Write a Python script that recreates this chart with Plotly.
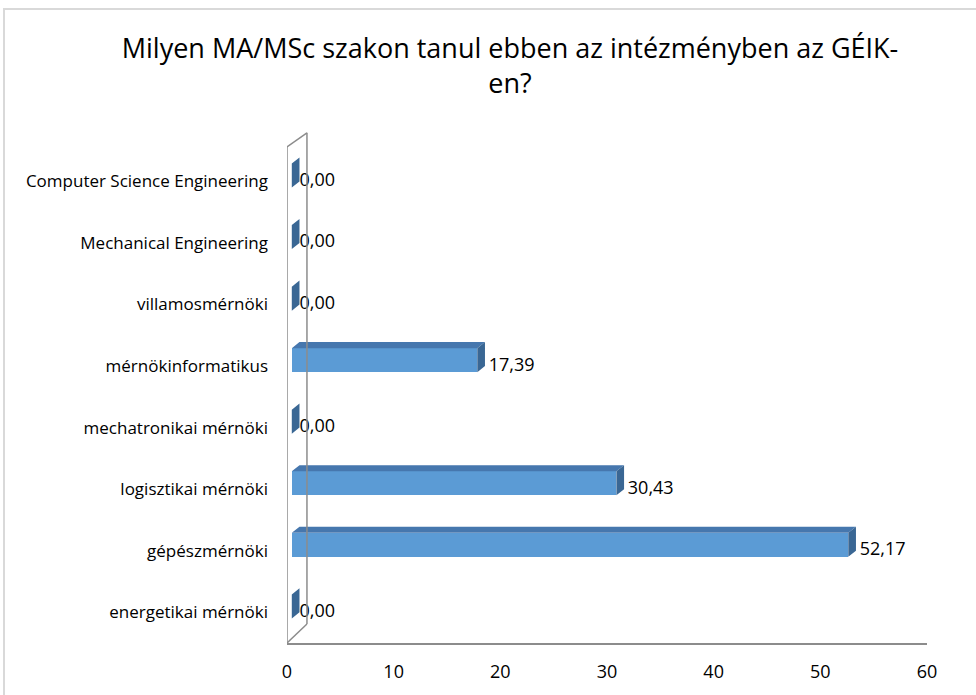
import plotly.graph_objects as go

categories = ["energetikai mérnöki", "gépészmérnöki", "logisztikai mérnöki",
              "mechatronikai mérnöki", "mérnökinformatikus", "villamosmérnöki",
              "Mechanical Engineering", "Computer Science Engineering"]
values = [0.00, 52.17, 30.43, 0.00, 17.39, 0.00, 0.00, 0.00]
x_ticks = [0, 10, 20, 30, 40, 50, 60]
title = "Milyen MA/MSc szakon tanul ebben az intézményben az GÉIK-<br>en?"

FONT = "Open Sans, sans-serif"
FRONT = "#5B9BD5"
TOP = "#4677AE"
SIDE = "#3A6794"

shift = 0.45      # gap between wall and bar front
dx = 0.72         # depth in x units
dy = 0.10         # depth in category units
y0off = -0.10     # front face bottom offset from category
bw = 0.39         # front face height

idx = list(range(len(categories)))

fig = go.Figure()

fig.add_trace(go.Bar(orientation="h", y=idx, x=values, base=shift,
                     width=bw, offset=y0off, marker=dict(color=FRONT, line=dict(width=0)),
                     hoverinfo="skip", showlegend=False))

tx, ty = [], []
for i, v in zip(idx, values):
    if v <= 0:
        continue
    yb = i + y0off + bw
    tx += [shift, shift + v, shift + v + dx, shift + dx, shift, None]
    ty += [yb, yb, yb + dy, yb + dy, yb, None]
fig.add_trace(go.Scatter(x=tx, y=ty, fill="toself", fillcolor=TOP, mode="lines",
                         line=dict(width=0, color=TOP), hoverinfo="skip", showlegend=False))

sx, sy = [], []
for i, v in zip(idx, values):
    xe = shift + v
    yb = i + y0off
    sx += [xe, xe, xe + dx, xe + dx, xe, None]
    sy += [yb, yb + bw, yb + bw + dy, yb + dy, yb, None]
fig.add_trace(go.Scatter(x=sx, y=sy, fill="toself", fillcolor=SIDE, mode="lines",
                         line=dict(width=0, color=SIDE), hoverinfo="skip", showlegend=False))

fig.add_trace(go.Scatter(x=[shift + v + dx + (0.35 if v > 0 else 0) for v in values],
                         y=[i for i in idx],
                         mode="text", text=[f"{v:.2f}".replace(".", ",") for v in values],
                         textposition="middle right",
                         textfont=dict(family=FONT, size=18, color="#000000"),
                         hoverinfo="skip", showlegend=False, cliponaxis=False))

wall_w = 1.87
wall_top = 7.79
GRAY = "#8C8C8C"
shapes = [
    dict(type="line", xref="x", yref="y", x0=0, y0=-0.5, x1=0, y1=7.56,
         line=dict(color=GRAY, width=1.5)),
    dict(type="line", xref="x", yref="y", x0=0, y0=7.56, x1=wall_w, y1=wall_top,
         line=dict(color=GRAY, width=1.5)),
    dict(type="line", xref="x", yref="y", x0=wall_w, y0=wall_top, x1=wall_w, y1=-0.19,
         line=dict(color=GRAY, width=1.5)),
    dict(type="line", xref="x", yref="y", x0=0, y0=-0.5, x1=wall_w, y1=-0.19,
         line=dict(color=GRAY, width=1.5)),
    dict(type="rect", xref="paper", yref="paper",
         x0=(4 - 287) / 640, x1=(990 - 287) / 640,
         y0=(647 - 710) / 521, y1=(647 - 8) / 521,
         line=dict(color="#D9D9D9", width=2), fillcolor="rgba(0,0,0,0)", layer="below"),
]

fig.update_layout(
    width=976, height=695,
    margin=dict(l=287, r=49, t=126, b=48),
    paper_bgcolor="white", plot_bgcolor="white",
    title=dict(text=title, x=510 / 976, xanchor="center", y=1 - 58 / 695, yanchor="middle",
               font=dict(family=FONT, size=27, color="#000000")),
    shapes=shapes,
    bargap=0,
    xaxis=dict(range=[0, 60], tickvals=x_ticks, ticktext=[str(t) for t in x_ticks],
               showgrid=False, zeroline=False, showline=True, linecolor=GRAY,
               linewidth=1.5, ticks="", ticklabelstandoff=12,
               tickfont=dict(family=FONT, size=18, color="#000000")),
    yaxis=dict(range=[-0.5, 7.9], tickvals=idx, ticktext=categories,
               showgrid=False, zeroline=False, showline=False, ticks="",
               ticklabelstandoff=18,
               tickfont=dict(family=FONT, size=17, color="#000000")),
)

fig.write_html("out.html", config={"displayModeBar": False},
               post_script="document.body.style.margin='0';document.body.style.overflow='hidden';")
